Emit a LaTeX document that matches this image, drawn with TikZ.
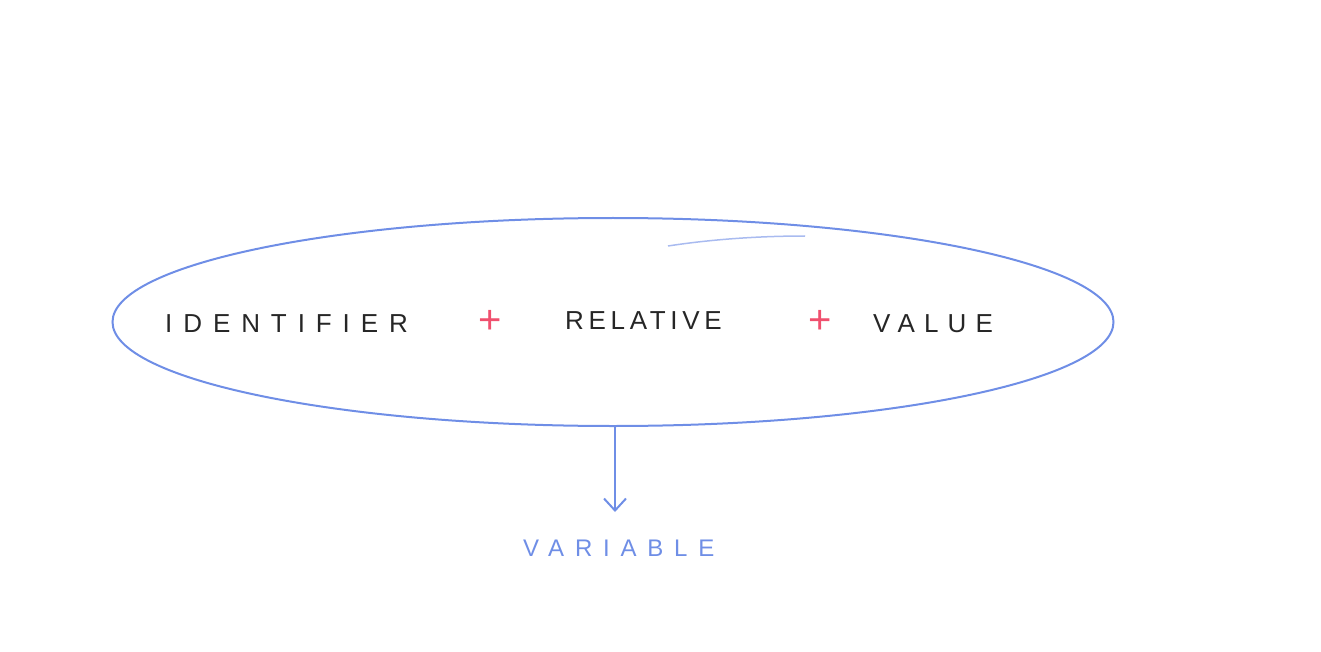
\documentclass[tikz,border=0pt]{standalone}
\usepackage{fontspec}
\setmainfont{Liberation Sans}
\usetikzlibrary{arrows.meta,shapes.geometric}
\definecolor{sk}{HTML}{6F8EE6}
\definecolor{pk}{HTML}{F0506E}
\tikzset{lbl/.style={font=\fontsize{26}{28}\selectfont, text=black!85, inner sep=0},
 plus/.style={font=\fontsize{40}{40}\selectfont, text=pk, inner sep=0}}
\begin{document}
\begin{tikzpicture}[x=1pt,y=-1pt]
\useasboundingbox (0,0) rectangle (1321,652);
\node[draw=sk, line width=2pt, ellipse, minimum width=1001pt, minimum height=208pt, inner sep=0] (ell) at (613,322) {};
\draw[sk!60, line width=1.5pt] (668,246) .. controls (720,238) and (770,236) .. (805,236);
\node[lbl, anchor=west] (id) at (165,324) {\addfontfeature{LetterSpace=42}IDENTIFIER};
\node[plus] (p1) at (490,322) {+};
\node[lbl, anchor=west] (rel) at (565,321) {\addfontfeature{LetterSpace=18}RELATIVE};
\node[plus] (p2) at (820,322) {+};
\node[lbl, anchor=west] (val) at (873,324) {\addfontfeature{LetterSpace=35}VALUE};
\node[font=\fontsize{24}{26}\selectfont\addfontfeature{LetterSpace=45}, text=sk, inner sep=0, anchor=west] (var) at (523,548) {VARIABLE};
\draw[sk, line width=2pt, -{Straight Barb[length=12pt,width=22pt]}] (ell.south -| 615,0) -- (615,512);
\end{tikzpicture}
\end{document}
